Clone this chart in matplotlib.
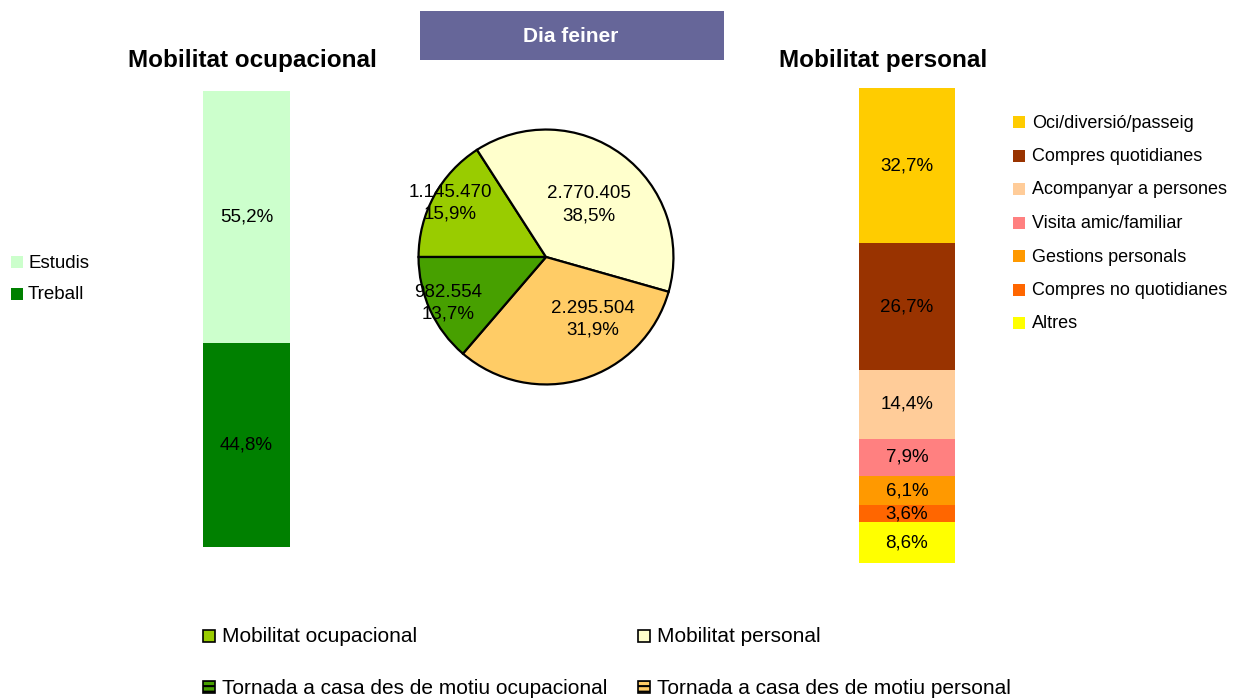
import matplotlib
matplotlib.use("Agg")
import matplotlib.pyplot as plt
from matplotlib.patches import Rectangle

plt.rcParams['font.family'] = ['Liberation Sans', 'DejaVu Sans']

W, H = 1243, 698

# ---- data ----
title = "Dia feiner"
left_title = "Mobilitat ocupacional"
right_title = "Mobilitat personal"

occ_labels = ["Estudis", "Treball"]
occ_values = [55.2, 44.8]
occ_colors = ["#CCFFCC", "#008000"]

pers_labels = ["Oci/diversió/passeig", "Compres quotidianes", "Acompanyar a persones",
               "Visita amic/familiar", "Gestions personals", "Compres no quotidianes", "Altres"]
pers_values = [32.7, 26.7, 14.4, 7.9, 6.1, 3.6, 8.6]
pers_colors = ["#FFCC00", "#993300", "#FFCC99", "#FF8080", "#FF9900", "#FF6600", "#FFFF00"]

pie_labels = ["Mobilitat ocupacional", "Mobilitat personal",
              "Tornada a casa des de motiu personal", "Tornada a casa des de motiu ocupacional"]
pie_counts = [1145470, 2770405, 2295504, 982554]
pie_pcts = [15.9, 38.5, 31.9, 13.7]
pie_colors = ["#99CC00", "#FFFFCC", "#FFCC66", "#47A000"]

def fmt_int(v):
    return f"{v:,}".replace(",", ".")

def fmt_pct(v):
    return f"{v:.1f}".replace(".", ",") + "%"

fig = plt.figure(figsize=(W / 100, H / 100), dpi=100)

def px_axes(x0, y0, x1, y1):
    return fig.add_axes([x0 / W, 1 - y1 / H, (x1 - x0) / W, (y1 - y0) / H])

def fx(x):
    return x / W

def fy(y):
    return 1 - y / H

# ---- title box ----
fig.patches.append(Rectangle((fx(420), fy(60)), (724 - 420) / W, (60 - 11) / H,
                             transform=fig.transFigure, facecolor="#666699",
                             edgecolor="none"))
fig.text(fx(571), fy(37), title, color="white", fontsize=15, fontweight="bold",
         ha="center", va="center")

fig.text(fx(252), fy(61), left_title, fontsize=17.5, fontweight="bold", ha="center", va="center")
fig.text(fx(883), fy(61), right_title, fontsize=17.5, fontweight="bold", ha="center", va="center")

# ---- stacked bar helper ----
def stacked(ax, values, colors):
    top = sum(values)
    for v, c in zip(values, colors):
        ax.bar(0, v, bottom=top - v, width=1.0, color=c, edgecolor="none")
        ax.text(0, top - v / 2, fmt_pct(v), ha="center", va="center", fontsize=13.5)
        top -= v
    ax.set_xlim(-0.5, 0.5)
    ax.set_ylim(0, sum(values))
    ax.axis("off")

axL = px_axes(203, 91, 290, 547)
stacked(axL, occ_values, occ_colors)

axR = px_axes(859, 88, 955, 563)
stacked(axR, pers_values, pers_colors)

# ---- pie ----
axP = px_axes(416, 127, 676, 387)
wedges, _ = axP.pie(pie_pcts, colors=pie_colors, startangle=180, counterclock=False,
                    wedgeprops=dict(edgecolor="black", linewidth=1.6), radius=1.0)
axP.set_xlim(-1.02, 1.02)
axP.set_ylim(-1.02, 1.02)
axP.set_aspect("equal")
axP.axis("off")
label_pos = [(-0.75, 0.42), (0.34, 0.41), (0.37, -0.49), (-0.77, -0.36)]
for (lx, ly), cnt, p in zip(label_pos, pie_counts, pie_pcts):
    axP.text(lx, ly, fmt_int(cnt) + "\n" + fmt_pct(p), ha="center", va="center",
             fontsize=13.5, linespacing=1.35)

# ---- legends (manual) ----
def legend_entry(x, y, color, label, size=12, edge="none", hatch=None, gap=7, fs=13):
    fig.patches.append(Rectangle((fx(x), fy(y + size / 2)), size / W, size / H,
                                 transform=fig.transFigure, facecolor=color,
                                 edgecolor=edge, linewidth=1.2, hatch=hatch))
    fig.text(fx(x + size + gap), fy(y + 1), label, fontsize=fs, ha="left", va="center")

for i, (lab, c) in enumerate(zip(occ_labels, occ_colors)):
    legend_entry(11, 262 + i * 32, c, lab, gap=5, fs=13.5)

for i, (lab, c) in enumerate(zip(pers_labels, pers_colors)):
    legend_entry(1013, 122 + i * 33.5, c, lab, fs=13)

plt.rcParams['hatch.linewidth'] = 1.5
bottom_pos = [(203, 636), (638, 636), (638, 687), (203, 687)]
for (bx, by), lab, c in zip(bottom_pos, pie_labels, pie_colors):
    h = "---" if lab.startswith("Tornada") else None
    legend_entry(bx, by, c, lab, size=12, edge="black", hatch=h, gap=7, fs=15)

fig.savefig("out.png", dpi=100)
